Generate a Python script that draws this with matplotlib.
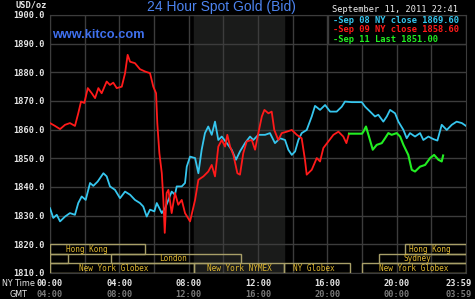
#24 hour spot gold chart, kitco style

import numpy as np
import matplotlib
matplotlib.use("Agg")
import matplotlib.pyplot as plt
from matplotlib.patches import Rectangle
import matplotlib.transforms as mtransforms

#values (hours since 00:00 NY time, USD/oz)
sep08_hours = [0.00, 0.19, 0.39, 0.58, 0.87, 1.15, 1.44, 1.63, 1.83, 2.06, 2.31, 2.50, 2.75, 3.08,
               3.27, 3.46, 3.75, 4.04, 4.33, 4.62, 4.90, 5.19, 5.38, 5.58, 5.77, 6.02, 6.16, 6.45,
               6.64, 6.83, 7.02, 7.21, 7.31, 7.60, 7.79, 7.89, 8.08, 8.37, 8.56, 8.75, 8.94, 9.13,
               9.33, 9.52, 9.71, 9.91, 10.20, 10.48, 10.73, 10.96, 11.25, 11.54, 11.73, 12.02,
               12.41, 12.69, 12.98, 13.27, 13.56, 13.75, 13.95, 14.14, 14.33, 14.52, 14.81, 15.10,
               15.29, 15.58, 15.87, 16.16, 16.54, 16.83, 17.02, 17.41, 17.99, 18.18, 18.47, 18.75,
               18.94, 19.23, 19.43, 19.62, 19.91, 20.10, 20.39, 20.58, 20.77, 21.06, 21.35, 21.54,
               21.83, 22.12, 22.35, 22.60, 22.89, 23.18, 23.46, 23.76, 24.00]
sep08_price = [1832.6, 1829.2, 1830.3, 1828.0, 1829.7, 1830.9, 1830.3, 1834.4, 1836.7, 1835.5,
               1841.4, 1840.4, 1841.9, 1844.8, 1843.7, 1840.2, 1839.0, 1836.1, 1838.4, 1837.3,
               1835.5, 1834.4, 1833.2, 1829.7, 1832.1, 1831.5, 1834.4, 1830.9, 1832.6, 1835.5,
               1838.4, 1837.3, 1840.2, 1840.2, 1841.4, 1847.1, 1850.6, 1850.1, 1844.8, 1853.0,
               1858.8, 1861.1, 1858.2, 1862.8, 1856.4, 1857.6, 1855.3, 1853.0, 1849.5, 1852.4,
               1855.3, 1857.6, 1856.4, 1858.2, 1858.2, 1858.8, 1855.3, 1857.0, 1856.4, 1853.0,
               1851.2, 1852.4, 1856.4, 1858.8, 1859.9, 1864.6, 1868.3, 1866.9, 1868.6, 1866.3,
               1866.3, 1868.0, 1869.8, 1869.6, 1869.6, 1868.0, 1866.3, 1864.6, 1865.2, 1862.8,
               1864.6, 1866.9, 1865.7, 1862.8, 1859.9, 1857.0, 1858.8, 1857.6, 1858.8, 1856.4,
               1857.6, 1856.7, 1856.2, 1861.7, 1859.9, 1861.7, 1862.8, 1862.3, 1861.3]

sep09_hours = [0.00, 0.29, 0.58, 0.87, 1.15, 1.44, 1.63, 1.79, 1.98, 2.18, 2.41, 2.60, 2.79, 2.98,
               3.27, 3.46, 3.65, 3.85, 4.14, 4.33, 4.48, 4.62, 4.90, 5.19, 5.48, 5.77, 5.96, 6.12,
               6.19, 6.31, 6.45, 6.54, 6.62, 6.73, 6.83, 7.02, 7.21, 7.40, 7.60, 7.79, 8.08, 8.37,
               8.56, 8.85, 9.13, 9.33, 9.52, 9.71, 9.91, 10.10, 10.23, 10.39, 10.58, 10.81, 10.96,
               11.15, 11.35, 11.64, 11.83, 12.02, 12.22, 12.37, 12.60, 12.79, 12.94, 13.17, 13.37,
               13.66, 13.95, 14.24, 14.52, 14.71, 14.81, 15.10, 15.39, 15.58, 15.77, 16.06, 16.35,
               16.64, 16.92, 17.10, 17.25]
sep09_price = [1862.3, 1861.3, 1860.2, 1861.7, 1862.3, 1861.3, 1865.7, 1869.8, 1869.3, 1874.5,
               1872.7, 1871.0, 1874.5, 1872.7, 1876.8, 1875.6, 1876.4, 1874.5, 1875.0, 1879.7,
               1886.1, 1883.7, 1883.2, 1881.1, 1880.3, 1879.7, 1875.0, 1872.7, 1862.3, 1851.8,
               1844.8, 1835.5, 1824.0, 1837.9, 1839.0, 1830.9, 1837.9, 1833.8, 1835.5, 1830.9,
               1828.0, 1835.5, 1842.5, 1843.7, 1845.4, 1847.7, 1843.7, 1854.1, 1856.4, 1854.1,
               1858.2, 1854.1, 1851.2, 1844.8, 1844.3, 1851.8, 1855.9, 1856.4, 1853.0, 1858.8,
               1864.6, 1866.9, 1865.7, 1866.3, 1859.9, 1856.4, 1858.8, 1859.3, 1859.9, 1858.2,
               1857.0, 1849.5, 1844.3, 1846.0, 1850.1, 1848.9, 1853.6, 1855.9, 1858.2, 1859.3,
               1857.6, 1855.3, 1858.6]

sep11_hours = [17.25, 18.00, 18.08, 18.23, 18.43, 18.62, 18.85, 19.14, 19.33, 19.52, 19.71, 20.00,
               20.20, 20.39, 20.67, 20.87, 21.06, 21.35, 21.64, 21.93, 22.16, 22.41, 22.60, 22.68]
sep11_price = [1858.6, 1858.6, 1859.3, 1861.1, 1857.0, 1853.0, 1854.7, 1855.3, 1857.0, 1858.8,
               1858.2, 1858.8, 1857.6, 1854.7, 1851.2, 1846.0, 1845.4, 1847.1, 1847.7, 1850.1,
               1851.2, 1849.5, 1848.9, 1851.0]

legend_labels = ["-Sep 08 NY close 1869.60", "-Sep 09 NY close 1858.60", "-Sep 11 Last 1851.00"]
date_label = "September 11, 2011 22:41"

y_ticks = [1810, 1820, 1830, 1840, 1850, 1860, 1870, 1880, 1890, 1900]
time_ticks = [0, 4, 8, 12, 16, 20, 23.55]
ny_labels = ["00:00", "04:00", "08:00", "12:00", "16:00", "20:00", "23:59"]
gmt_labels = ["04:00", "08:00", "12:00", "16:00", "20:00", "00:00", "03:59"]

#market sessions: row 0 top, row 2 bottom
session_names = ["Hong Kong", "", "London", "New York Globex", "New York NYMEX", "NY Globex",
                 "New York Globex", "Sydney", "Hong Kong"]
session_rows = [0, 1, 1, 2, 2, 2, 2, 1, 0]
session_start = [0.0, 0.0, 3.5, 0.0, 8.33, 13.5, 18.0, 19.0, 20.5]
session_end = [5.5, 1.05, 11.0, 8.33, 13.5, 17.3, 24.0, 24.0, 24.0]
session_label_x = [2.1, 0.5, 7.1, 3.65, 10.93, 15.2, 20.97, 21.2, 21.9]

comex_open, comex_close = 8.33, 13.5

cyan = "#36c6ee"
red = "#ff1a1a"
green = "#22ee22"
grid_c = "#3c3c3c"
mono = "DejaVu Sans Mono"

W, H = 475, 299
fig = plt.figure(figsize=(W / 100, H / 100), dpi=100, facecolor="black")
ax = fig.add_axes([50 / W, 26 / H, 416 / W, 258 / H], facecolor="black")

ax.set_xlim(0, 24)
ax.set_ylim(1810, 1900)
ax.axvspan(comex_open, comex_close, color="#1a1b1a", zorder=0)

ax.set_xticks(np.arange(0, 24, 2))
ax.set_yticks(y_ticks)
ax.grid(True, color=grid_c, linewidth=1.0, zorder=1)
ax.set_axisbelow(True)
ax.tick_params(length=0, labelbottom=False)
ax.set_yticklabels(["%.1f" % v for v in y_ticks], color="#e6e6e6", fontsize=6.2,
                   family=mono, fontweight="bold")
ax.tick_params(axis="y", pad=4)
for s in ax.spines.values():
    s.set_color(grid_c)

#session boxes
row_h = 10 / 3.0
for name, row, a, b, lx in zip(session_names, session_rows, session_start, session_end, session_label_x):
    y0 = 1820 - (row + 1) * row_h
    ax.add_patch(Rectangle((a, y0), b - a, row_h, fill=False, edgecolor="#a89f68",
                           linewidth=1.0, zorder=3))
    if name:
        ax.text(lx, y0 + row_h / 2, name, color="#e0b830", fontsize=5.6, family=mono,
                ha="center", va="center", zorder=4)

ax.plot(sep08_hours, sep08_price, color=cyan, lw=1.3, zorder=5)
ax.plot(sep09_hours, sep09_price, color=red, lw=1.3, zorder=5)
ax.plot(sep11_hours, sep11_price, color=green, lw=1.5, zorder=6)

#legend box
ax.add_patch(Rectangle((16.04, 1890), 24 - 16.04, 10, facecolor="black", edgecolor=grid_c,
                       linewidth=1.0, zorder=2))
for i, (lab, c) in enumerate(zip(legend_labels, [cyan, red, green])):
    fig.text(333 / W, 1 - (20.5 + i * 9.4) / H, lab, color=c, fontsize=6.3, family=mono,
             fontweight="bold", va="center", ha="left")
fig.text(332 / W, 1 - 9 / H, date_label, color="#f0f0f0", fontsize=6.2, family=mono,
         va="center", ha="left")

#time axis labels
trans = mtransforms.blended_transform_factory(ax.transData, fig.transFigure)
for t, ny, gmt in zip(time_ticks, ny_labels, gmt_labels):
    ax.text(t, 1 - 283 / H, ny, transform=trans, color="#e6e6e6", fontsize=6.2, family=mono,
            fontweight="bold", ha="center", va="center", clip_on=False)
    ax.text(t, 1 - 294.5 / H, gmt, transform=trans, color="#7a7a7a", fontsize=6.2, family=mono,
            fontweight="bold", ha="center", va="center", clip_on=False)
fig.text(2 / W, 1 - 283 / H, "NY Time", color="#e6e6e6", fontsize=5.8, ha="left", va="center")
fig.text(9 / W, 1 - 294.5 / H, "GMT", color="#e6e6e6", fontsize=5.8, ha="left", va="center")

fig.text(15 / W, 1 - 5.5 / H, "USD/oz", color="#e6e6e6", fontsize=6.2, family=mono,
         fontweight="bold", ha="left", va="center")
fig.text(221.5 / W, 1 - 7.5 / H, "24 Hour Spot Gold (Bid)", color="#4d84f0", fontsize=10,
         family="Liberation Sans", ha="center", va="center")
fig.text(52 / W, 1 - 35 / H, "www.kitco.com", color="#3f70ee", fontsize=9.2,
         family="Liberation Sans", fontweight="bold", ha="left", va="center")

fig.savefig("out.png", dpi=100, facecolor="black")
